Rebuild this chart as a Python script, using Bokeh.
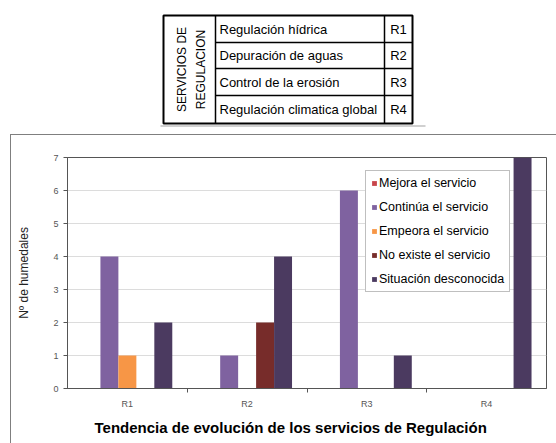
import math
from bokeh.plotting import figure
from bokeh.models import (FixedTicker, Range1d, Legend, LegendItem, Title)
from bokeh.embed import file_html
from bokeh.resources import INLINE
from bokeh.core.properties import value

# ---- data ----
categories = ["R1", "R2", "R3", "R4"]
series_names = ["Mejora el servicio", "Continúa el servicio", "Empeora el servicio",
                "No existe el servicio", "Situación desconocida"]
mejora = [0, 0, 0, 0]
continua = [4, 1, 6, 0]
empeora = [1, 0, 0, 0]
no_existe = [0, 2, 0, 0]
desconocida = [2, 4, 1, 7]
y_ticks = [0, 1, 2, 3, 4, 5, 6, 7]

table_services = ["Regulación hídrica", "Depuración de aguas", "Control de la erosión",
                  "Regulación climatica global"]
table_codes = ["R1", "R2", "R3", "R4"]
table_header = ["SERVICIOS DE", "REGULACION"]

colors = ["#C8454A", "#7F62A0", "#F79646", "#772C2A", "#4B3A60"]
FONT = "Liberation Sans"
W = 556

# ---- table figure (pixel-like coordinates) ----
t = figure(width=W, height=133, x_range=Range1d(0, W), y_range=Range1d(133, 0),
           toolbar_location=None, output_backend="svg", min_border=0,
           x_axis_location=None, y_axis_location=None)
t.grid.visible = False
t.outline_line_color = None
t.segment(x0=[160], y0=[125.5], x1=[425], y1=[125.5], line_color="#d0d0d0", line_width=2)
t.quad(left=[163], right=[412], top=[15], bottom=[123], fill_color=None,
       line_color="black", line_width=2)
t.segment(x0=[215, 384], y0=[15, 15], x1=[215, 384], y1=[123, 123], line_color="black", line_width=1.5)
t.segment(x0=[215, 215, 215], y0=[42, 68, 95], x1=[412, 412, 412], y1=[42, 68, 95],
          line_color="black", line_width=1.5)
t.text(x=[181, 200], y=[69, 69], text=table_header, angle=math.pi / 2,
       text_align="center", text_baseline="middle", text_font=value(FONT),
       text_font_size="12px", text_color="black")
row_y = [28.5, 55, 81.5, 109]
t.text(x=[219] * 4, y=row_y, text=table_services, text_align="left", text_baseline="middle",
       text_font=value(FONT), text_font_size="13px", text_color="black")
t.text(x=[398] * 4, y=row_y, text=table_codes, text_align="center", text_baseline="middle",
       text_font=value(FONT), text_font_size="13px", text_color="black")

# ---- chart figure ----
p = figure(width=W, height=310, x_range=Range1d(0, 4), y_range=Range1d(0, 7),
           toolbar_location=None, output_backend="svg",
           min_border_left=67, min_border_right=10, min_border_top=24, min_border_bottom=55)
p.border_fill_color = None
p.background_fill_color = "white"
p.styles = {
    "background-color": "white",
    "background-image": "linear-gradient(#7f7f7f, #7f7f7f), linear-gradient(#7f7f7f, #7f7f7f)",
    "background-size": "1px 400px, 546px 1px",
    "background-position": "10px 1px, 10px 1px",
    "background-repeat": "no-repeat",
}
p.outline_line_color = "#555555"
p.xgrid.visible = False
p.ygrid.grid_line_color = "#dcdcdc"
p.ygrid.ticker = FixedTicker(ticks=y_ticks)

p.yaxis.ticker = FixedTicker(ticks=y_ticks)
p.yaxis.major_tick_out = 4
p.yaxis.major_tick_in = 0
p.yaxis.minor_tick_out = 0
p.yaxis.axis_line_color = "#555555"
p.yaxis.major_tick_line_color = "#555555"
p.yaxis.major_label_text_font = FONT
p.yaxis.major_label_text_font_size = "9px"
p.yaxis.major_label_text_color = "#555555"
p.yaxis.axis_label = "Nº de humedales"
p.yaxis.axis_label_text_font = FONT
p.yaxis.axis_label_text_font_size = "12px"
p.yaxis.axis_label_text_font_style = "normal"
p.yaxis.axis_label_text_color = "#222222"
p.yaxis.axis_label_standoff = 19

centers = [i + 0.5 for i in range(len(categories))]
p.xaxis.ticker = FixedTicker(ticks=centers, minor_ticks=[1, 2, 3])
p.xaxis.major_label_overrides = {c: cat for c, cat in zip(centers, categories)}
p.xaxis.major_tick_out = 0
p.xaxis.major_tick_in = 0
p.xaxis.minor_tick_out = 4
p.xaxis.minor_tick_in = 0
p.xaxis.minor_tick_line_color = "#555555"
p.xaxis.axis_line_color = "#555555"
p.xaxis.major_label_text_font = FONT
p.xaxis.major_label_text_font_size = "9px"
p.xaxis.major_label_text_color = "#555555"
p.xaxis.major_label_standoff = 6

all_series = [mejora, continua, empeora, no_existe, desconocida]
bw = 0.15
items = []
for j, (name, vals) in enumerate(zip(series_names, all_series)):
    off = (j - 2) * bw
    xs = [c + off for c in centers]
    r = p.vbar(x=xs, top=vals, bottom=0, width=bw, fill_color=colors[j], line_color=None)
    items.append(LegendItem(label=name, renderers=[r]))

legend = Legend(items=items, location=(298, 96), border_line_color="#808080",
                border_line_width=1, background_fill_color="white", background_fill_alpha=1,
                label_text_font=FONT, label_text_font_size="12.5px", label_text_color="black",
                glyph_width=6, glyph_height=6, label_height=14, label_standoff=2,
                spacing=10, padding=5, margin=0)
p.add_layout(legend)

title = Title(text="Tendencia de evolución de los servicios de Regulación", align="left",
              offset=27, text_font=FONT, text_font_size="15px", text_font_style="bold",
              text_color="black")
p.add_layout(title, "below")

open("out.html", "w").write(file_html([t, p], INLINE))
